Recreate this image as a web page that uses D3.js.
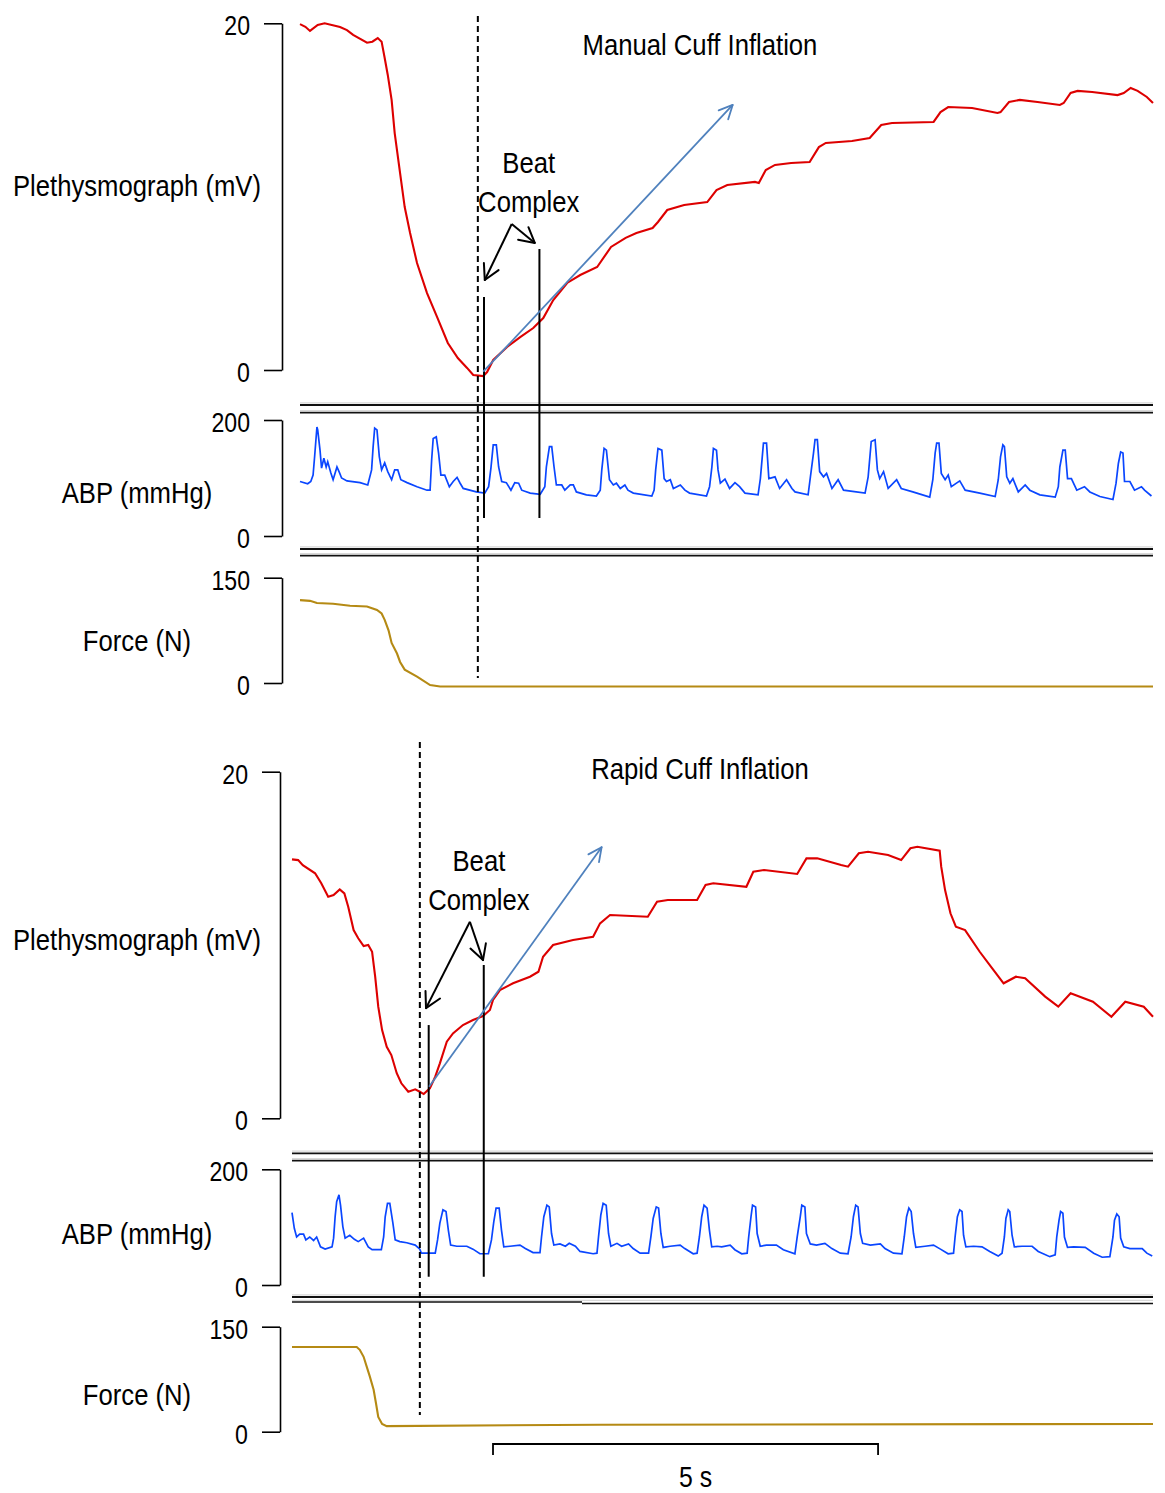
<!DOCTYPE html>
<html>
<head>
<meta charset="utf-8">
<script src="https://cdn.jsdelivr.net/npm/d3@7"></script>
<style>
  html, body { margin: 0; padding: 0; background: #fff; }
  svg { display: block; }
  text { font-family: "Liberation Sans", Arial, sans-serif; fill: #000; }
</style>
</head>
<body>
<svg id="chart" width="1165" height="1493"></svg>
<script>
// ---- Recorded traces: [time (s), value] ----
const manualPleth = [[0,19.95],[0.07,19.8],[0.13,19.56],[0.23,19.9],[0.32,20.0],[0.52,19.79],[0.61,19.61],[0.69,19.33],[0.87,18.88],[0.94,18.94],[1.01,19.15],[1.06,18.94],[1.10,18.0],[1.14,17.02],[1.19,15.58],[1.23,13.67],[1.30,11.36],[1.36,9.4],[1.43,7.9],[1.52,6.17],[1.65,4.44],[1.78,3.06],[1.92,1.56],[2.05,0.69],[2.17,0.12],[2.25,-0.29],[2.38,-0.35],[2.43,-0.12],[2.51,0.58],[2.69,1.33],[2.86,1.90],[3.03,2.42],[3.16,3.0],[3.29,4.04],[3.47,5.02],[3.64,5.48],[3.86,5.94],[4.04,7.10],[4.23,7.62],[4.37,7.90],[4.58,8.19],[4.65,8.54],[4.77,9.23],[4.99,9.52],[5.29,9.69],[5.41,10.38],[5.55,10.67],[5.91,10.85],[5.96,10.79],[6.05,11.54],[6.17,11.83],[6.38,11.94],[6.62,12.0],[6.74,12.86],[6.83,13.10],[7.17,13.21],[7.40,13.38],[7.55,14.13],[7.69,14.25],[8.23,14.31],[8.32,14.88],[8.42,15.17],[8.73,15.11],[9.06,14.83],[9.10,14.88],[9.21,15.46],[9.35,15.58],[9.58,15.46],[9.87,15.29],[9.92,15.40],[10.01,15.98],[10.10,16.10],[10.29,16.04],[10.62,15.86],[10.70,15.98],[10.79,16.27],[10.88,16.10],[11.0,15.75],[11.08,15.40]];

const manualAbp = [[0,94],[0.10,90],[0.14,94],[0.17,105],[0.19,137],[0.22,188],[0.23,183],[0.26,148],[0.28,117],[0.31,134],[0.34,119],[0.36,128],[0.40,109],[0.43,97],[0.48,119],[0.51,110],[0.54,100],[0.61,95],[0.78,92],[0.88,88],[0.93,114],[0.95,154],[0.97,186],[1.00,183],[1.03,137],[1.06,114],[1.10,126],[1.14,111],[1.19,97],[1.23,114],[1.27,114],[1.31,97],[1.39,92],[1.52,85],[1.65,79],[1.69,79],[1.71,131],[1.73,168],[1.77,171],[1.80,143],[1.83,105],[1.88,105],[1.94,85],[1.99,94],[2.04,101],[2.08,91],[2.12,82],[2.29,76],[2.40,74],[2.45,85],[2.48,117],[2.51,157],[2.55,157],[2.58,119],[2.62,94],[2.68,92],[2.74,79],[2.79,92],[2.84,91],[2.88,79],[2.99,74],[3.12,72],[3.18,85],[3.20,119],[3.24,154],[3.27,154],[3.30,119],[3.33,88],[3.40,88],[3.44,79],[3.51,88],[3.55,88],[3.59,76],[3.72,71],[3.85,69],[3.90,79],[3.92,114],[3.95,151],[3.98,148],[4.02,97],[4.07,88],[4.11,91],[4.16,82],[4.22,88],[4.26,79],[4.33,74],[4.57,69],[4.60,79],[4.62,114],[4.65,151],[4.70,148],[4.73,99],[4.76,94],[4.81,97],[4.85,82],[4.94,88],[5.00,79],[5.06,74],[5.28,69],[5.32,85],[5.35,119],[5.37,151],[5.41,148],[5.43,114],[5.46,91],[5.52,98],[5.58,82],[5.65,92],[5.71,85],[5.78,74],[5.95,71],[5.98,99],[6.02,160],[6.06,160],[6.09,99],[6.17,102],[6.23,82],[6.32,97],[6.39,82],[6.43,76],[6.60,71],[6.63,102],[6.67,143],[6.69,166],[6.72,166],[6.75,111],[6.80,102],[6.84,108],[6.91,82],[6.99,97],[7.06,79],[7.34,74],[7.38,102],[7.42,163],[7.47,166],[7.50,114],[7.53,99],[7.58,111],[7.64,82],[7.75,97],[7.81,82],[7.96,76],[8.18,67],[8.22,97],[8.25,143],[8.27,160],[8.30,160],[8.33,108],[8.38,97],[8.42,105],[8.46,85],[8.57,95],[8.64,79],[8.83,74],[9.03,68],[9.07,97],[9.10,137],[9.13,157],[9.15,154],[9.18,102],[9.22,91],[9.26,99],[9.33,76],[9.42,88],[9.48,79],[9.61,71],[9.81,67],[9.85,85],[9.87,119],[9.91,148],[9.94,148],[9.97,99],[10.02,99],[10.09,79],[10.19,85],[10.26,76],[10.39,68],[10.56,63],[10.60,91],[10.63,125],[10.66,145],[10.69,143],[10.71,94],[10.78,94],[10.84,79],[10.93,85],[10.97,79],[11.06,69]];

const manualForce = [[0,118],[0.13,117],[0.22,114],[0.43,113],[0.65,110],[0.87,109],[1.00,104],[1.06,99],[1.10,90],[1.15,75],[1.19,57],[1.26,42],[1.30,30],[1.36,19],[1.52,9],[1.69,-3],[1.82,-5],[11.08,-5]];

const rapidPleth = [[0,14.94],[0.08,14.90],[0.14,14.61],[0.30,14.14],[0.38,13.56],[0.47,12.79],[0.54,12.88],[0.62,13.21],[0.68,12.98],[0.73,12.21],[0.80,10.86],[0.86,10.39],[0.93,9.94],[0.99,10.00],[1.04,9.61],[1.08,8.17],[1.12,6.44],[1.17,5.09],[1.23,4.13],[1.29,3.65],[1.36,2.60],[1.42,2.02],[1.51,1.53],[1.60,1.67],[1.66,1.53],[1.71,1.40],[1.79,1.73],[1.86,2.40],[1.92,3.17],[2.01,4.42],[2.09,4.90],[2.22,5.38],[2.35,5.67],[2.48,5.90],[2.57,6.25],[2.61,6.83],[2.70,7.40],[2.87,7.79],[3.09,8.17],[3.20,8.46],[3.26,9.32],[3.39,10.00],[3.65,10.29],[3.91,10.48],[4.00,11.25],[4.13,11.73],[4.62,11.63],[4.74,12.50],[4.88,12.60],[5.26,12.60],[5.37,13.46],[5.47,13.56],[5.90,13.36],[5.99,14.23],[6.13,14.33],[6.56,14.10],[6.68,15.00],[6.82,15.00],[7.13,14.62],[7.22,14.52],[7.36,15.29],[7.48,15.38],[7.74,15.19],[7.91,14.90],[8.03,15.58],[8.12,15.67],[8.41,15.44],[8.43,14.52],[8.48,13.17],[8.55,11.83],[8.62,11.06],[8.74,10.86],[8.93,9.61],[9.09,8.66],[9.24,7.79],[9.40,8.17],[9.52,8.08],[9.78,7.02],[9.95,6.44],[10.11,7.21],[10.40,6.73],[10.64,5.86],[10.82,6.73],[11.06,6.44],[11.18,5.86]];

const rapidAbp = [[0,125],[0.03,98],[0.06,83],[0.10,88],[0.15,88],[0.18,78],[0.23,83],[0.28,77],[0.32,83],[0.37,66],[0.43,62],[0.52,66],[0.54,81],[0.56,118],[0.58,144],[0.61,156],[0.63,138],[0.66,101],[0.69,81],[0.75,86],[0.81,79],[0.86,75],[0.93,81],[0.99,66],[1.04,61],[1.16,61],[1.19,83],[1.21,118],[1.24,141],[1.27,141],[1.31,107],[1.34,78],[1.40,75],[1.49,73],[1.60,69],[1.66,62],[1.68,55],[1.86,55],[1.89,78],[1.92,107],[1.96,130],[2.00,127],[2.03,95],[2.06,69],[2.14,67],[2.27,67],[2.35,62],[2.44,54],[2.55,54],[2.59,78],[2.62,109],[2.65,133],[2.69,133],[2.72,95],[2.75,66],[2.83,67],[2.96,69],[3.03,63],[3.13,56],[3.22,56],[3.24,83],[3.27,118],[3.31,138],[3.34,135],[3.37,89],[3.40,69],[3.48,71],[3.55,67],[3.60,72],[3.68,67],[3.74,58],[3.91,54],[3.96,55],[3.98,83],[4.01,121],[4.04,141],[4.08,138],[4.11,89],[4.14,67],[4.22,72],[4.28,67],[4.37,71],[4.43,63],[4.52,55],[4.63,55],[4.66,83],[4.69,115],[4.73,135],[4.76,133],[4.79,89],[4.82,65],[4.91,67],[5.04,69],[5.10,63],[5.21,54],[5.26,55],[5.29,83],[5.32,118],[5.35,138],[5.39,133],[5.42,95],[5.45,66],[5.52,67],[5.58,66],[5.69,69],[5.75,61],[5.84,54],[5.91,55],[5.93,83],[5.96,118],[5.98,138],[6.02,135],[6.04,89],[6.08,67],[6.16,69],[6.29,69],[6.38,61],[6.53,54],[6.56,83],[6.60,118],[6.62,138],[6.66,135],[6.68,89],[6.73,71],[6.81,69],[6.92,72],[7.01,63],[7.12,55],[7.22,54],[7.26,83],[7.29,118],[7.32,138],[7.35,135],[7.38,89],[7.41,72],[7.51,69],[7.64,71],[7.70,63],[7.81,55],[7.92,54],[7.95,83],[7.98,118],[8.01,133],[8.04,127],[8.07,89],[8.10,65],[8.22,67],[8.33,69],[8.42,62],[8.52,54],[8.59,55],[8.61,83],[8.64,118],[8.67,130],[8.70,127],[8.72,86],[8.75,66],[8.85,67],[8.96,66],[9.06,58],[9.17,50],[9.22,55],[9.25,83],[9.27,115],[9.30,130],[9.32,127],[9.35,86],[9.38,66],[9.48,67],[9.61,67],[9.69,58],[9.84,49],[9.91,52],[9.93,83],[9.96,112],[9.98,127],[10.01,124],[10.03,83],[10.07,65],[10.15,66],[10.30,65],[10.41,55],[10.52,48],[10.62,49],[10.66,83],[10.68,112],[10.71,123],[10.74,118],[10.76,81],[10.80,66],[10.88,63],[11.04,63],[11.10,55],[11.17,50]];

const rapidForce = [[0,121],[0.84,121],[0.88,117],[0.93,107],[0.97,93],[1.01,79],[1.06,60],[1.09,41],[1.12,21],[1.17,11],[1.23,8],[4.0,10],[11.18,11]];

// ---- Axis ticks and labels ----
const plethTicks = [0, 20];
const abpTicks = [0, 200];
const forceTicks = [0, 150];
const channelLabels = ["Plethysmograph (mV)", "ABP (mmHg)", "Force (N)"];
const panelTitles = ["Manual Cuff Inflation", "Rapid Cuff Inflation"];
const calloutLines = ["Beat", "Complex"];
const scaleBarSeconds = [2.61, 7.61];
const scaleBarLabel = "5 s";

// ---- Event markers (s) and annotation anchors ----
const manualOnset = 2.31;
const manualBeats = [2.39, 3.11];
const manualBeatTops = [4.21, 6.98];        // mV
const manualSlope = [[2.38, -0.1], [5.62, 15.29]];
const manualCallout = { apex: [2.75, 8.42], tips: [[2.40, 5.19], [3.05, 7.33]] };

const rapidOnset = 1.66;
const rapidBeats = [1.775, 2.49];
const rapidBeatTops = [5.38, 8.85];
const rapidSlope = [[1.78, 1.82], [4.02, 15.64]];
const rapidCallout = { apex: [2.31, 11.34], tips: [[1.74, 6.36], [2.48, 9.13]] };

// ---- Colours ----
const COL = { pleth: "#dd0000", abp: "#0a46ff", force: "#b58a14", slope: "#4f81bd", ink: "#000" };

// condensed lettering: squeeze glyphs horizontally
const NARROW = 0.855;
function narrow(sel) {
  sel.each(function () {
    const w = this.getComputedTextLength();
    this.setAttribute("textLength", (w * NARROW).toFixed(1));
    this.setAttribute("lengthAdjust", "spacingAndGlyphs");
  });
}

const svg = d3.select("#chart");

// Page layout for the two stacked recordings
const panels = [
  {
    title: panelTitles[0], titleY: 55,
    x: d3.scaleLinear([0, 11.08], [300, 1153]),
    axisX: 282,
    pleth: d3.scaleLinear([0, 20], [370, 23.3]),
    abp: d3.scaleLinear([0, 200], [536, 420]),
    force: d3.scaleLinear([0, 150], [683, 577.7]),
    labelY: [185, 492, 640],
    seps: [[405, 412.7, null], [549, 555.7, null]],
    data: [manualPleth, manualAbp, manualForce],
    onset: manualOnset, onsetTop: 20.42, onsetBottom: 7.1,
    beats: manualBeats, beatTops: manualBeatTops, beatBottom: 31,
    slope: manualSlope, callout: manualCallout, calloutDx: 17
  },
  {
    title: panelTitles[1], titleY: 779,
    x: d3.scaleLinear([0, 11.18], [292, 1153]),
    axisX: 280,
    pleth: d3.scaleLinear([0, 20], [1118.3, 771.7]),
    abp: d3.scaleLinear([0, 200], [1285, 1169.3]),
    force: d3.scaleLinear([0, 150], [1431.7, 1326.7]),
    labelY: [939, 1233, 1394],
    seps: [[1153.3, 1160.7, null], [1297, 1302.5, 582]],
    data: [rapidPleth, rapidAbp, rapidForce],
    onset: rapidOnset, onsetTop: 21.71, onsetBottom: 23.9,
    beats: rapidBeats, beatTops: rapidBeatTops, beatBottom: 14.3,
    slope: rapidSlope, callout: rapidCallout, calloutDx: 9,
    scaleBar: true
  }
];

function arrowHead(g, from, to, len, halfAngle, color, width) {
  const ang = Math.atan2(to[1] - from[1], to[0] - from[0]);
  [1, -1].forEach(s => {
    const a = ang + Math.PI + s * halfAngle;
    g.append("line")
      .attr("x1", to[0]).attr("y1", to[1])
      .attr("x2", to[0] + len * Math.cos(a)).attr("y2", to[1] + len * Math.sin(a))
      .attr("stroke", color).attr("stroke-width", width).attr("stroke-linecap", "round");
  });
}

panels.forEach(p => {
  const g = svg.append("g");
  const x = p.x;
  const yScales = [p.pleth, p.abp, p.force];
  const ticks = [plethTicks, abpTicks, forceTicks];
  const colors = [COL.pleth, COL.abp, COL.force];
  const widths = [2.1, 1.7, 2.1];
  const x0 = x.range()[0], x1 = x.range()[1];

  // channel break separators
  p.seps.forEach(([ya, yb, stepX]) => {
    [ya, yb].forEach((yy, i) => {
      g.append("line").attr("x1", x0).attr("x2", x1)
        .attr("y1", yy - 2.2).attr("y2", yy - 2.2)
        .attr("stroke", "#d8d8d8").attr("stroke-width", 1.2);
      if (stepX !== null && i === 1) {
        g.append("line").attr("x1", x0).attr("x2", stepX).attr("y1", yy - 0.5).attr("y2", yy - 0.5)
          .attr("stroke", "#111").attr("stroke-width", 1.6);
        g.append("line").attr("x1", stepX).attr("x2", x1).attr("y1", yy + 1).attr("y2", yy + 1)
          .attr("stroke", "#111").attr("stroke-width", 1.6);
      } else {
        g.append("line").attr("x1", x0).attr("x2", x1).attr("y1", yy).attr("y2", yy)
          .attr("stroke", "#111").attr("stroke-width", 1.8);
      }
    });
  });

  // y axes as brackets
  yScales.forEach((ys, i) => {
    const ax = g.append("g")
      .attr("transform", `translate(${p.axisX},0)`)
      .call(d3.axisLeft(ys).tickValues(ticks[i]).tickSizeInner(18).tickSizeOuter(0).tickPadding(14).tickFormat(d3.format("d")));
    ax.attr("font-family", null);
    ax.select(".domain").attr("stroke", COL.ink).attr("stroke-width", 1.6);
    ax.selectAll(".tick line").attr("stroke", COL.ink).attr("stroke-width", 1.6);
    ax.selectAll(".tick text")
      .attr("font-size", 27).attr("dy", "0.42em")
      .attr("fill", COL.ink)
      .call(narrow);

    g.append("text")
      .attr("x", 137).attr("y", p.labelY[i] + 11)
      .attr("text-anchor", "middle").attr("font-size", 30)
      .text(channelLabels[i])
      .call(narrow);
  });

  // traces
  p.data.forEach((series, i) => {
    const line = d3.line().x(d => x(d[0])).y(d => yScales[i](d[1]));
    g.append("path").datum(series)
      .attr("d", line)
      .attr("fill", "none")
      .attr("stroke", colors[i])
      .attr("stroke-width", widths[i])
      .attr("stroke-linejoin", "miter");
  });

  // onset marker
  g.append("line")
    .attr("x1", x(p.onset)).attr("x2", x(p.onset))
    .attr("y1", p.pleth(p.onsetTop)).attr("y2", p.force(p.onsetBottom))
    .attr("stroke", COL.ink).attr("stroke-width", 2).attr("stroke-dasharray", "6,4");

  // beat complex boundaries
  p.beats.forEach((b, i) => {
    g.append("line")
      .attr("x1", x(b)).attr("x2", x(b))
      .attr("y1", p.pleth(p.beatTops[i])).attr("y2", p.abp(p.beatBottom))
      .attr("stroke", COL.ink).attr("stroke-width", 2);
  });

  // slope arrow
  const s0 = [x(p.slope[0][0]), p.pleth(p.slope[0][1])];
  const s1 = [x(p.slope[1][0]), p.pleth(p.slope[1][1])];
  g.append("line").attr("x1", s0[0]).attr("y1", s0[1]).attr("x2", s1[0]).attr("y2", s1[1])
    .attr("stroke", COL.slope).attr("stroke-width", 1.8);
  arrowHead(g, s0, s1, 15, 0.45, COL.slope, 1.8);

  // callout arrows
  const apex = [x(p.callout.apex[0]), p.pleth(p.callout.apex[1])];
  p.callout.tips.forEach(t => {
    const tip = [x(t[0]), p.pleth(t[1])];
    g.append("line").attr("x1", apex[0]).attr("y1", apex[1]).attr("x2", tip[0]).attr("y2", tip[1])
      .attr("stroke", COL.ink).attr("stroke-width", 2);
    arrowHead(g, apex, tip, 17, 0.5, COL.ink, 2);
  });
  calloutLines.forEach((txt, i) => {
    g.append("text")
      .attr("x", apex[0] + p.calloutDx)
      .attr("y", apex[1] + (i === 0 ? -51 : -12))
      .attr("text-anchor", "middle").attr("font-size", 30)
      .text(txt)
      .call(narrow);
  });

  // panel title
  g.append("text").attr("x", 700).attr("y", p.titleY)
    .attr("text-anchor", "middle").attr("font-size", 30).text(p.title)
    .call(narrow);

  // time scale bar
  if (p.scaleBar) {
    const bx0 = x(scaleBarSeconds[0]), bx1 = x(scaleBarSeconds[1]);
    g.append("path")
      .attr("d", `M${bx0},1455V1444H${bx1}V1455`)
      .attr("fill", "none").attr("stroke", COL.ink).attr("stroke-width", 1.8);
    g.append("text").attr("x", (bx0 + bx1) / 2 + 10).attr("y", 1487)
      .attr("text-anchor", "middle").attr("font-size", 29).text(scaleBarLabel)
      .call(narrow);
  }
});
</script>
</body>
</html>
